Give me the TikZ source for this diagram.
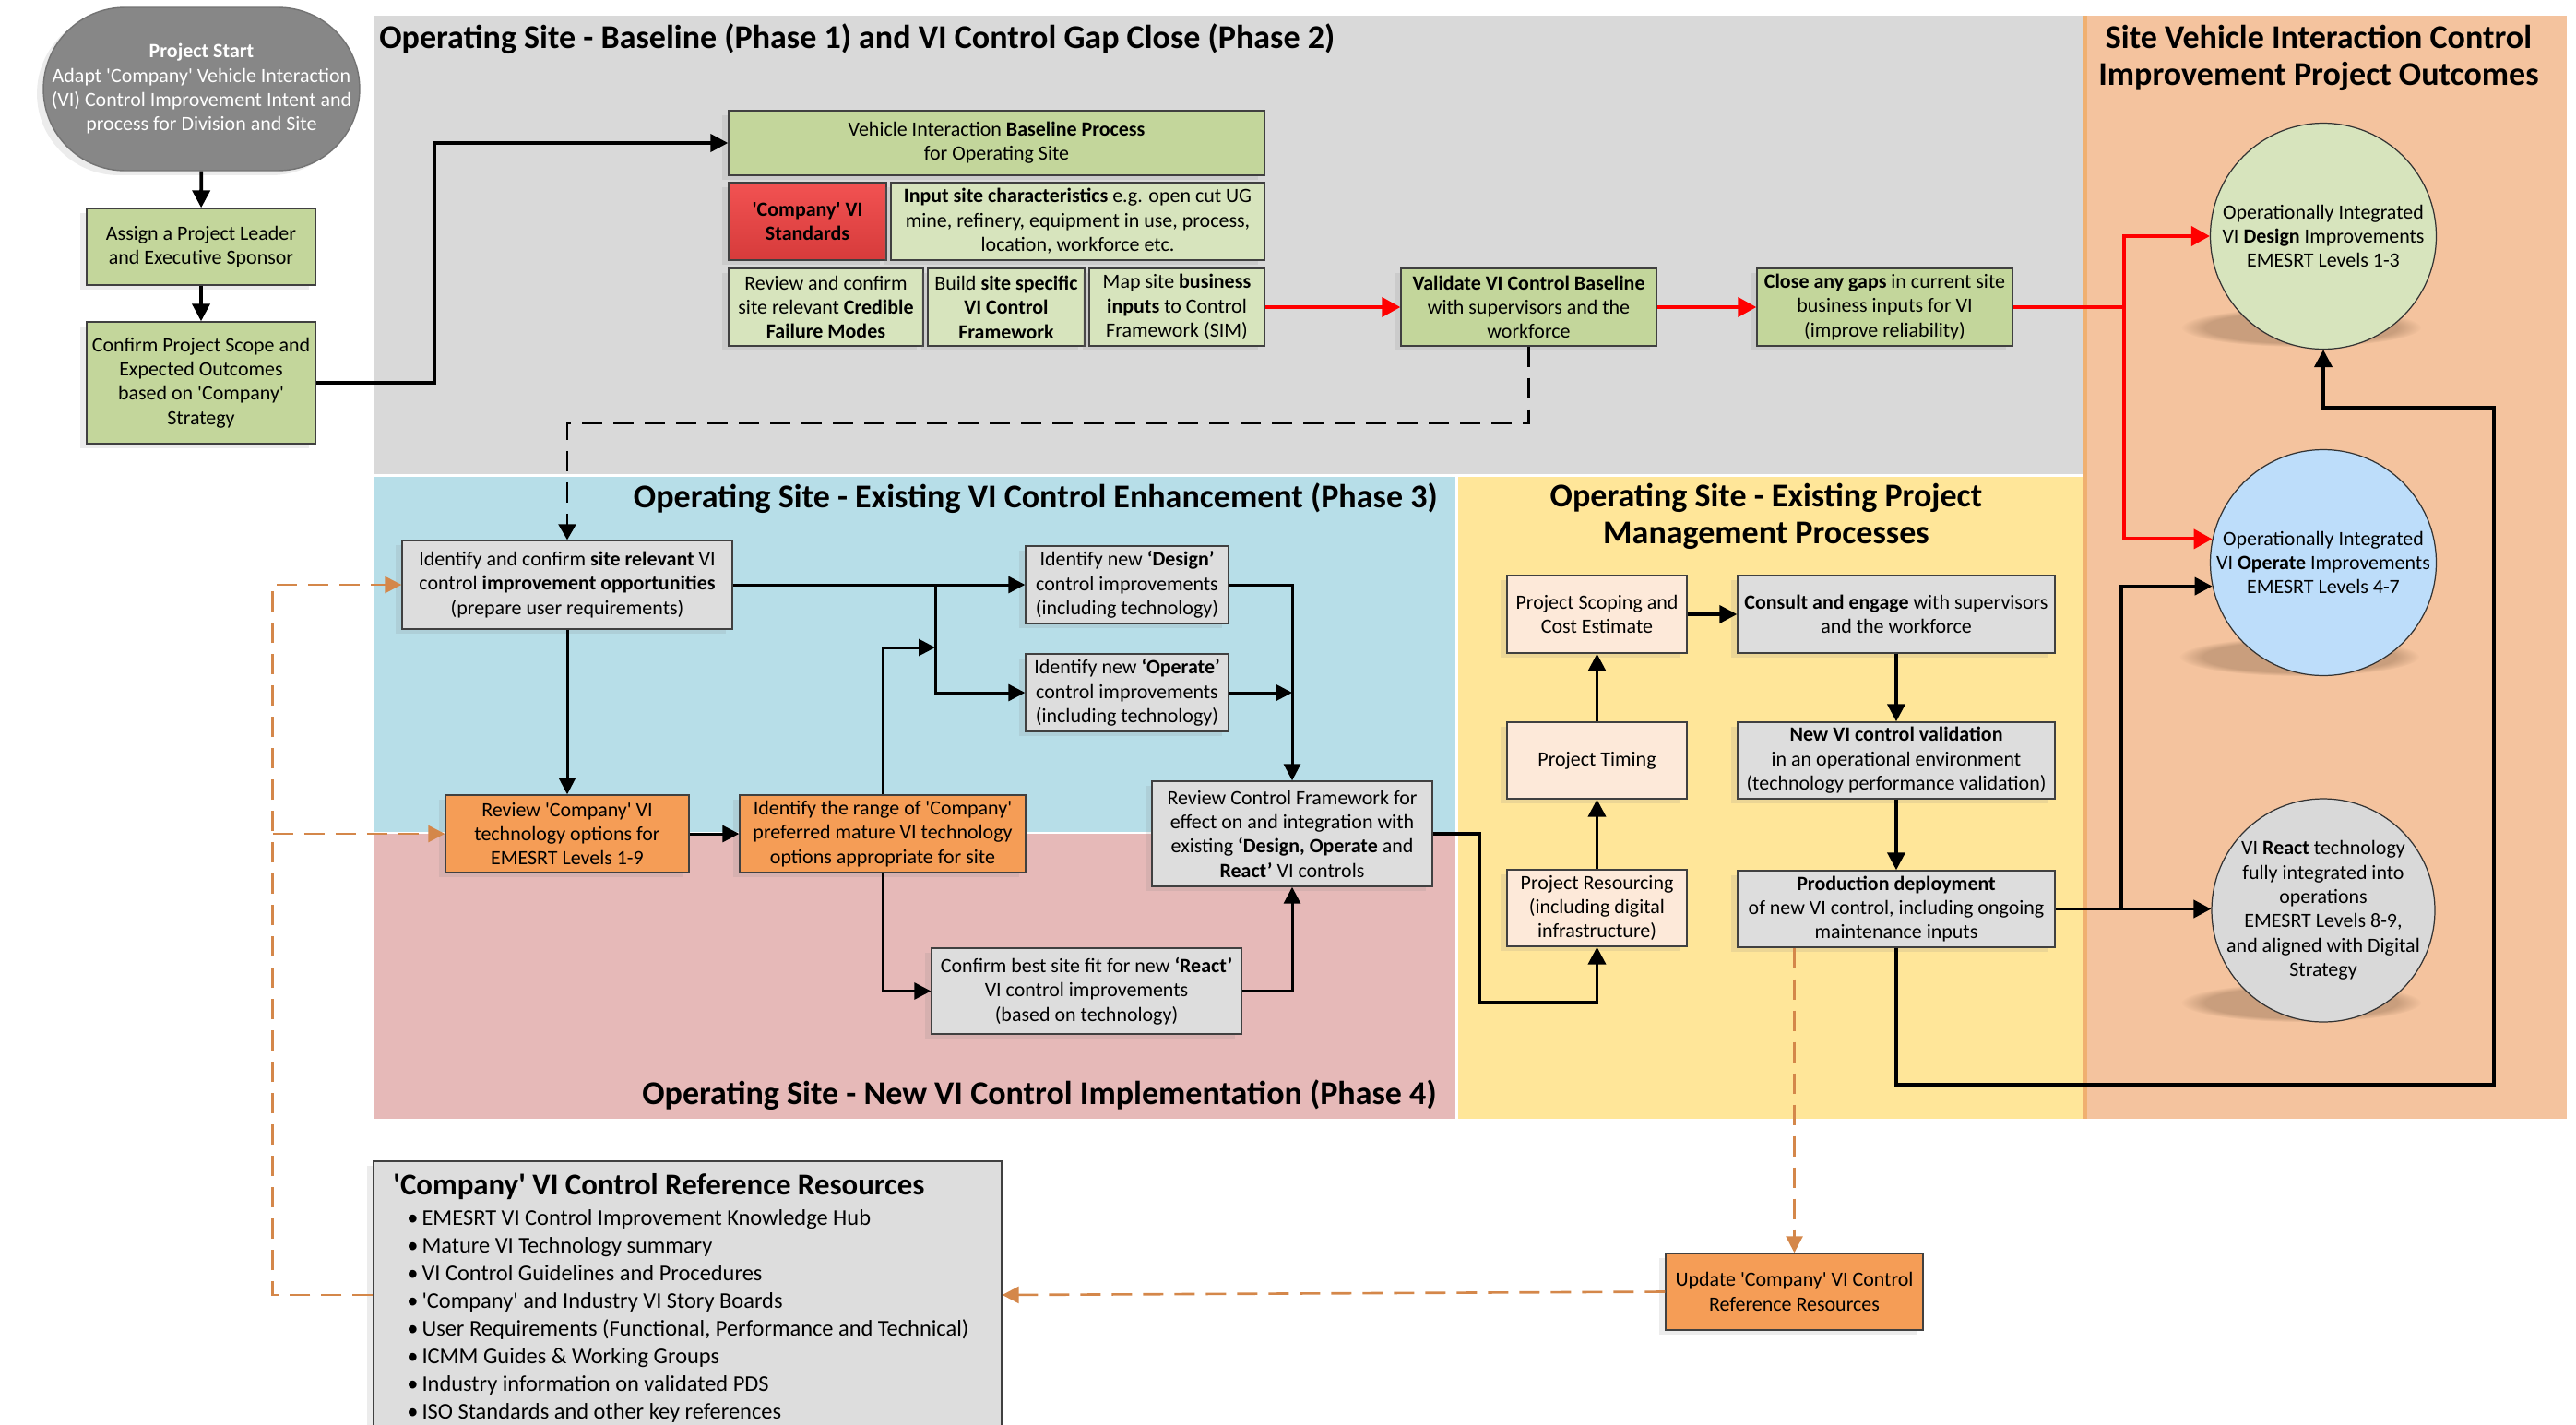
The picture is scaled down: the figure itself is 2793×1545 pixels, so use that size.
\documentclass[tikz,border=0pt]{standalone}
\usepackage{fontspec}
\setmainfont{Carlito}[Ligatures=TeXOff]
\usetikzlibrary{arrows.meta,shadows,fadings}

\definecolor{regGrey}{HTML}{D9D9D9}
\definecolor{regBlue}{HTML}{B7DEE8}
\definecolor{regPink}{HTML}{E6B9B8}
\definecolor{regYellow}{HTML}{FFE699}
\definecolor{regPeach}{HTML}{F4C39E}
\definecolor{edgePeach}{HTML}{F0B070}
\definecolor{boxGreen}{HTML}{C3D69B}
\definecolor{boxGreenL}{HTML}{D7E4BD}
\definecolor{boxGrey}{HTML}{DDDDDD}
\definecolor{boxOrange}{HTML}{F59D56}
\definecolor{boxPeach}{HTML}{FDE9D9}
\definecolor{boxRedT}{HTML}{F25252}
\definecolor{boxRedB}{HTML}{D63B3B}
\definecolor{startGrey}{HTML}{878787}
\definecolor{circBlue}{HTML}{BDDDFA}
\definecolor{dashOrange}{HTML}{D4874A}
\definecolor{shadowBrown}{HTML}{7A5A40}

\begin{document}
\begin{tikzpicture}[x=0.02cm,y=-0.02cm]
    % Define styles
    \tikzstyle{txt}=[font=\fontsize{12.5}{15}\selectfont,align=center,inner sep=0pt]
    \tikzstyle{box}=[txt,draw=black!75,line width=0.8pt,drop shadow={shadow xshift=-0.14cm,shadow yshift=-0.1cm,opacity=0.15}]
    \tikzstyle{outcome}=[circle,draw=black!80,line width=0.7pt,minimum size=4.9cm,inner sep=0pt]
    \tikzstyle{title}=[font=\fontsize{20.5}{22.5}\selectfont\bfseries,align=center,inner sep=0pt]
    \tikzstyle{flow}=[line width=2.2pt,-{Triangle[length=0.38cm,width=0.38cm]}]
    \tikzstyle{thinflow}=[line width=1.7pt,-{Triangle[length=0.36cm,width=0.36cm]}]
    \tikzstyle{redflow}=[line width=2.2pt,draw=red,-{Triangle[length=0.4cm,width=0.42cm]}]
    \tikzstyle{dashflow}=[line width=1.3pt,dash pattern=on 0.44cm off 0.24cm,-{Triangle[length=0.34cm,width=0.38cm]}]
    \tikzstyle{refflow}=[line width=1.5pt,draw=dashOrange,dash pattern=on 0.44cm off 0.24cm,-{Triangle[length=0.36cm,width=0.36cm]}]
    \tikzstyle{blob}=[fill=shadowBrown,opacity=0.35,path fading=circle with fuzzy edge 20 percent]

    \useasboundingbox (0,0) rectangle (2793,1545);
    \clip (0,0) rectangle (2793,1545);

    % Draw the phase areas
    \fill[regGrey] (405,17) rectangle (2258,514);
    \fill[regBlue] (406,517) rectangle (1578,902);
    \fill[regPink] (406,904) rectangle (1578,1213);
    \fill[regYellow] (1581,517) rectangle (2258,1213);
    \fill[regPeach] (2258,17) rectangle (2783,1213);
    \fill[edgePeach] (2258,17) rectangle (2263,1213);

    \node[title,anchor=base west] (t1) at (411,52) {Operating Site - Baseline (Phase 1) and VI Control Gap Close (Phase 2)};
    \node[title,anchor=base east] (t2) at (1559,550) {Operating Site - Existing VI Control Enhancement (Phase 3)};
    \node[title,anchor=base east] (t3) at (1558,1197) {Operating Site - New VI Control Implementation (Phase 4)};
    \node[title] (t4) at (1915,560) {Operating Site - Existing Project\\Management Processes};
    \node[title] (t5) at (2514,63) {Site Vehicle Interaction Control\\Improvement Project Outcomes};

    % Draw the nodes
    \node[box,fill=startGrey,draw=black!55,text=white,rounded corners=1.77cm,minimum width=6.86cm,minimum height=3.54cm] (1) at (218.5,96.5) {\textbf{Project Start}\\Adapt 'Company' Vehicle Interaction\\(VI) Control Improvement Intent and\\process for Division and Site};
    \node[box,fill=boxGreen,minimum width=4.96cm,minimum height=1.66cm] (2) at (218,267.5) {Assign a Project Leader\\and Executive Sponsor};
    \node[box,fill=boxGreen,minimum width=4.96cm,minimum height=2.64cm] (3) at (218,415) {Confirm Project Scope and\\Expected Outcomes\\based on 'Company'\\Strategy};

    \node[box,fill=boxGreen,minimum width=11.62cm,minimum height=1.40cm] (4) at (1080.5,155) {Vehicle Interaction \textbf{Baseline Process}\\for Operating Site};
    \node[box,top color=boxRedT,bottom color=boxRedB,minimum width=3.42cm,minimum height=1.68cm] (5) at (875.5,240) {\textbf{'Company' VI}\\\textbf{Standards}};
    \node[box,fill=boxGreenL,minimum width=8.10cm,minimum height=1.68cm] (6) at (1168.5,240) {\textbf{Input site characteristics} e.g. open cut UG\\mine, refinery, equipment in use, process,\\location, workforce etc.};
    \node[box,fill=boxGreenL,minimum width=4.22cm,minimum height=1.68cm] (7) at (895.5,333) {Review and confirm\\site relevant \textbf{Credible}\\\textbf{Failure Modes}};
    \node[box,fill=boxGreenL,minimum width=3.40cm,minimum height=1.68cm] (8) at (1091,333) {Build \textbf{site specific}\\\textbf{VI Control}\\\textbf{Framework}};
    \node[box,fill=boxGreenL,minimum width=3.80cm,minimum height=1.68cm] (9) at (1276,333) {Map site \textbf{business}\\\textbf{inputs} to Control\\Framework (SIM)};
    \node[box,fill=boxGreen,minimum width=5.54cm,minimum height=1.68cm] (10) at (1657.5,333) {\textbf{Validate VI Control Baseline}\\with supervisors and the\\workforce};
    \node[box,fill=boxGreen,minimum width=5.54cm,minimum height=1.68cm] (11) at (2043.5,333) {\textbf{Close any gaps} in current site\\business inputs for VI\\(improve reliability)};

    % Draw the outcomes
    \fill[blob] (2495,355) ellipse [x radius=2.6cm,y radius=0.42cm];
    \fill[blob] (2493,712) ellipse [x radius=2.6cm,y radius=0.42cm];
    \fill[blob] (2495,1087) ellipse [x radius=2.6cm,y radius=0.42cm];
    \node[outcome,fill=boxGreenL] (12) at (2519,256) {};
    \node[outcome,fill=circBlue] (13) at (2519,610) {};
    \node[outcome,fill=regGrey,minimum size=4.84cm] (14) at (2519,987) {};
    \node[txt] (12l) at (12) {Operationally Integrated\\VI \textbf{Design} Improvements\\EMESRT Levels 1-3};
    \node[txt] (13l) at (13) {Operationally Integrated\\VI \textbf{Operate} Improvements\\EMESRT Levels 4-7};
    \node[txt] (14l) at (14) {VI \textbf{React} technology\\fully integrated into\\operations\\EMESRT Levels 8-9,\\and aligned with Digital\\Strategy};

    % Phase 3 and 4 nodes
    \node[box,fill=boxGrey,minimum width=7.16cm,minimum height=1.92cm] (15) at (615,634) {Identify and confirm \textbf{site relevant} VI\\control \textbf{improvement opportunities}\\(prepare user requirements)};
    \node[box,fill=boxGrey,minimum width=4.40cm,minimum height=1.68cm] (16) at (1222,634) {Identify new \textbf{‘Design’}\\control improvements\\(including technology)};
    \node[box,fill=boxGrey,minimum width=4.40cm,minimum height=1.68cm] (17) at (1222,751) {Identify new \textbf{‘Operate’}\\control improvements\\(including technology)};
    \node[box,fill=boxOrange,minimum width=5.28cm,minimum height=1.68cm] (18) at (615,904) {Review 'Company' VI\\technology options for\\EMESRT Levels 1-9};
    \node[box,fill=boxOrange,minimum width=6.20cm,minimum height=1.68cm] (19) at (957,904) {Identify the range of 'Company'\\preferred mature VI technology\\options appropriate for site};
    \node[box,fill=boxGrey,minimum width=6.08cm,minimum height=2.28cm] (20) at (1401,904) {Review Control Framework for\\effect on and integration with\\existing \textbf{‘Design, Operate} and\\\textbf{React’} VI controls};
    \node[box,fill=boxGrey,minimum width=6.72cm,minimum height=1.86cm] (21) at (1178,1074.5) {Confirm best site fit for new \textbf{‘React’}\\VI control improvements\\(based on technology)};

    % Project management nodes
    \node[box,fill=boxPeach,minimum width=3.90cm,minimum height=1.68cm] (22) at (1731.5,666) {Project Scoping and\\Cost Estimate};
    \node[box,fill=boxPeach,minimum width=3.90cm,minimum height=1.66cm] (23) at (1731.5,824.5) {Project Timing};
    \node[box,fill=boxPeach,minimum width=3.90cm,minimum height=1.66cm] (24) at (1731.5,984.5) {Project Resourcing\\(including digital\\infrastructure)};
    \node[box,fill=boxGrey,minimum width=6.88cm,minimum height=1.68cm] (25) at (2056,666) {\textbf{Consult and engage} with supervisors\\and the workforce};
    \node[box,fill=boxGrey,minimum width=6.88cm,minimum height=1.66cm] (26) at (2056,824.5) {\textbf{New VI control validation}\\in an operational environment\\(technology performance validation)};
    \node[box,fill=boxGrey,minimum width=6.88cm,minimum height=1.66cm] (27) at (2056,985.5) {\textbf{Production deployment}\\of new VI control, including ongoing\\maintenance inputs};

    % Reference resources
    \node[box,fill=boxOrange,minimum width=5.58cm,minimum height=1.66cm] (28) at (1945.5,1400.5) {Update 'Company' VI Control\\Reference Resources};
    \node[box,fill=boxGrey,minimum width=13.62cm,minimum height=5.80cm] (29) at (745.5,1404) {};
    \node[anchor=base west,inner sep=0pt,font=\fontsize{18.7}{21}\selectfont\bfseries] (r0) at (426,1295) {'Company' VI Control Reference Resources};
    \foreach \entry [count=\i] in {EMESRT VI Control Improvement Knowledge Hub,Mature VI Technology summary,VI Control Guidelines and Procedures,'Company' and Industry VI Story Boards,{User Requirements (Functional, Performance and Technical)},ICMM Guides \& Working Groups,Industry information on validated PDS,ISO Standards and other key references}
        \node[anchor=base west,inner sep=0pt,font=\fontsize{13.9}{17}\selectfont] (r\i) at (441,{1298+30*\i}) {\textbullet\,\entry};

    % Draw the edges
    \draw[flow] (1) -- (2);
    \draw[flow] (2) -- (3);
    \draw[flow] (3.east) -- (471,415) |- (4.west);
    \draw[redflow] (9.east) -- (10.west);
    \draw[redflow] (10.east) -- (11.west);
    \draw[redflow] (11.east) -- (2303,333) |- (12.west);
    \draw[redflow] (2303,333) |- (13.168);
    \draw[dashflow] (10.south) -- ++(0,83) -| (15.north);

    \coordinate (s1) at (1014,634);
    \coordinate (j1) at (1014,702);
    \draw[thinflow] (15.east) -- (16.west);
    \draw[thinflow] (s1) |- (17.west);
    \draw[thinflow] (19.north) |- (j1);
    \draw[thinflow] (16.east) -| (20.north);
    \draw[thinflow] (17.east) -- (17.east -| 20.north);
    \draw[thinflow] (15.south) -- (18.north);
    \draw[thinflow] (18.east) -- (19.west);
    \draw[thinflow] (19.south) |- (21.west);
    \draw[thinflow] (21.east) -| (20.south);
    \draw[flow] (20.east) -- ++(50,0) -- ++(0,183) -| (24.south);

    \draw[flow] (24) -- (23);
    \draw[flow] (23) -- (22);
    \draw[flow] (22) -- (25);
    \draw[flow] (25) -- (26);
    \draw[flow] (26) -- (27);
    \draw[flow] (27.east) -- (27.east -| 14.west);
    \draw[flow] (2300,985.5) |- (13.192);
    \draw[flow] (27.south) |- (2704,1176) |- (2519,442) -- (12.south);

    \draw[refflow] (28.north |- 27.south) -- (28.north);
    \draw[refflow] (28.west) -- (29.east);
    \draw[refflow] (29.west) -- ++(-109,0) |- (15.west);
    \draw[refflow] (296,904) -- (18.west);
\end{tikzpicture}
\end{document}
